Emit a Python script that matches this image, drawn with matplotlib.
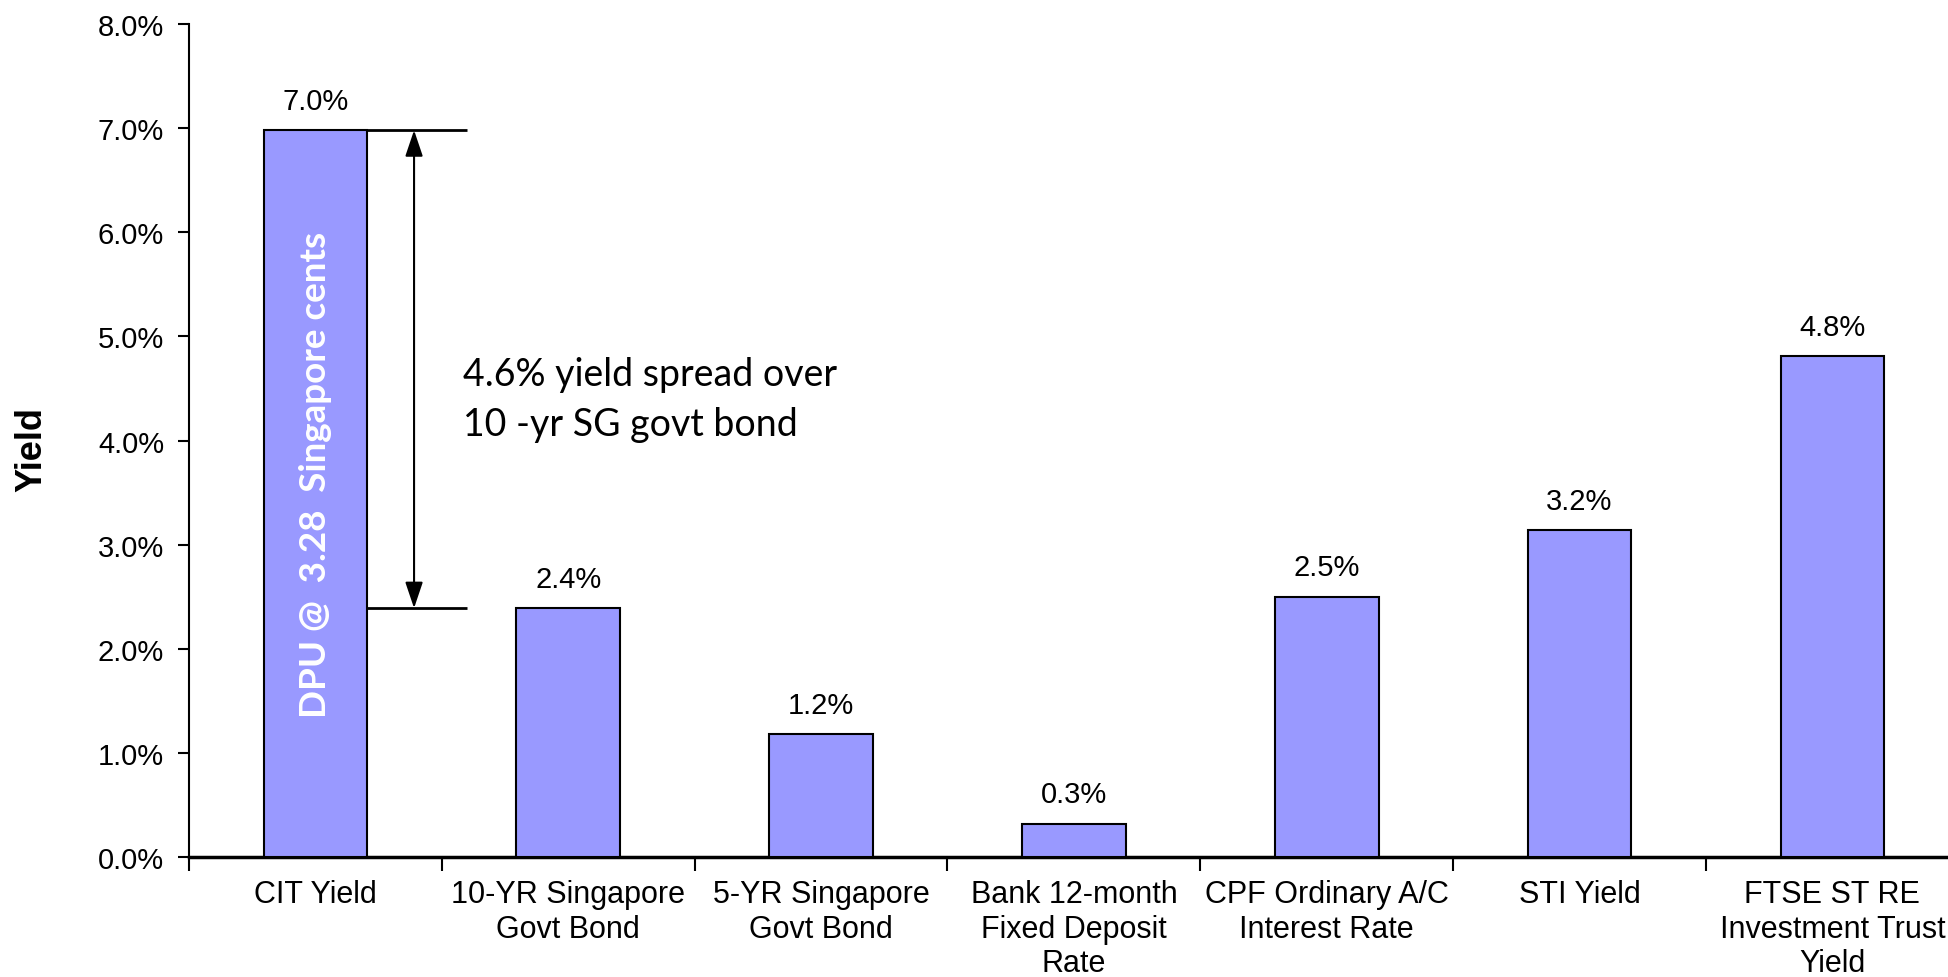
import numpy as np
import matplotlib
matplotlib.use("Agg")
import matplotlib.pyplot as plt
from matplotlib.ticker import FuncFormatter, FixedLocator

plt.rcParams["font.family"] = "Liberation Sans"

# ----- data -----
categories = [
    "CIT Yield",
    "10-YR Singapore\nGovt Bond",
    "5-YR Singapore\nGovt Bond",
    "Bank 12-month\nFixed Deposit\nRate",
    "CPF Ordinary A/C\nInterest Rate",
    "STI Yield",
    "FTSE ST RE\nInvestment Trust\nYield",
]
yields = [6.98, 2.39, 1.18, 0.32, 2.50, 3.14, 4.81]
value_labels = ["7.0%", "2.4%", "1.2%", "0.3%", "2.5%", "3.2%", "4.8%"]
dpu_text = "DPU @  3.28  Singapore cents"
yticks = [0, 1, 2, 3, 4, 5, 6, 7, 8]

bar_color = "#9999FF"
bar_width = 0.41

fig = plt.figure(figsize=(19.49, 9.78), dpi=100)
ax = fig.add_axes([0.097, 0.1227, 0.908, 0.8517])

x = np.arange(len(categories))
ax.bar(x, yields, width=bar_width, color=bar_color, edgecolor="black", linewidth=1.5, zorder=3)

for xi, v, lab in zip(x, yields, value_labels):
    ax.annotate(lab, (xi, v), xytext=(0, 11), textcoords="offset points",
                ha="center", va="bottom", fontsize=21)

# spread annotation between CIT yield and 10-yr bond
top_y = yields[0]
bot_y = yields[1]
spread = top_y - bot_y
ax.hlines([top_y, bot_y], bar_width / 2, 0.60, color="black", lw=2, zorder=4)
ax.annotate("", xy=(0.39, bot_y), xytext=(0.39, top_y),
            arrowprops=dict(arrowstyle="<|-|>,head_length=0.8,head_width=0.27",
                            lw=1.5, color="black", mutation_scale=20,
                            shrinkA=0, shrinkB=0), zorder=4)
ax.text(0.585, 4.40, f"{spread:.1f}% yield spread over\n10 -yr SG govt bond",
        ha="left", va="center", fontsize=27, family="Lato", linespacing=1.5)

ax.text(0, 3.68, dpu_text, rotation=90, color="white", fontweight="bold",
        fontsize=26.5, family="Lato", ha="center", va="center", zorder=5)

# axes styling
ax.set_xlim(-0.5, len(categories) - 0.5)
ax.set_ylim(0, 8)
ax.set_yticks(yticks)
ax.yaxis.set_major_formatter(FuncFormatter(lambda v, p: f"{v:.1f}%"))
ax.tick_params(axis="y", direction="out", length=8, width=1.5, labelsize=21, pad=10)

ax.xaxis.set_major_locator(FixedLocator(np.arange(-0.5, len(categories), 1)))
ax.xaxis.set_minor_locator(FixedLocator(x))
ax.set_xticklabels([], minor=False)
ax.set_xticklabels(categories, minor=True)
ax.tick_params(axis="x", which="major", direction="out", length=10, width=1.5)
ax.tick_params(axis="x", which="minor", length=0, labelsize=22, pad=16)
for lab in ax.get_xticklabels(minor=True):
    lab.set_linespacing(1.2)

for side in ["top", "right"]:
    ax.spines[side].set_visible(False)
ax.spines["left"].set_linewidth(1.5)
ax.spines["bottom"].set_linewidth(2.5)

fig.text(0.0164, 0.540, "Yield", rotation=90, ha="center", va="center",
         fontsize=26, fontweight="bold")

fig.savefig("out.png", dpi=100, facecolor="white")
